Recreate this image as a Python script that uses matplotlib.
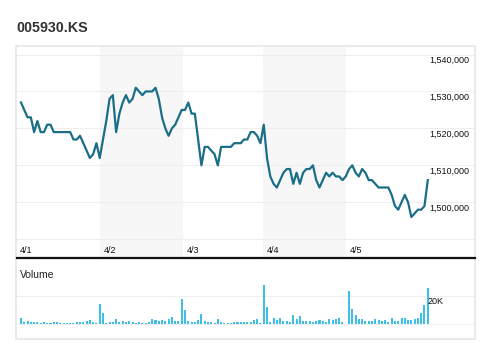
import matplotlib
matplotlib.use('Agg')
import matplotlib.pyplot as plt
from matplotlib.transforms import blended_transform_factory
from matplotlib.lines import Line2D
from matplotlib.patches import Rectangle

plt.rcParams['font.family'] = ['Liberation Sans', 'DejaVu Sans']

# --- data (15-minute bars, 4/1 - 4/5) ---
title = '005930.KS'
day_labels = ['4/1', '4/2', '4/3', '4/4', '4/5']
price_ticks = [1490000, 1500000, 1510000, 1520000, 1530000, 1540000]
price_tick_labels = ['', '1,500,000', '1,510,000', '1,520,000', '1,530,000', '1,540,000']
volume_ticks = [0, 20000]
volume_tick_labels = ['', '20K']

prices = [
    1527000, 1525000, 1523000, 1523000, 1519000, 1522000, 1519000, 1519000, 1521000, 1521000,
    1519000, 1519000, 1519000, 1519000, 1519000, 1519000, 1517000, 1517000, 1518000, 1516000,
    1514000, 1512000, 1513000, 1516000, 1512000, 1517000, 1522000, 1528000, 1529000, 1519000,
    1524000, 1527000, 1529000, 1527000, 1528000, 1531000, 1530000, 1529000, 1530000, 1530000,
    1530000, 1531000, 1528000, 1523000, 1520000, 1518000, 1520000, 1521000, 1523000, 1525000,
    1525000, 1527000, 1524000, 1524000, 1517000, 1510000, 1515000, 1515000, 1514000, 1513000,
    1510000, 1515000, 1515000, 1515000, 1515000, 1516000, 1516000, 1516000, 1517000, 1517000,
    1519000, 1519000, 1518000, 1516000, 1521000, 1512000, 1507000, 1505000, 1504000, 1506000,
    1508000, 1509000, 1509000, 1505000, 1508000, 1505000, 1508000, 1509000, 1509000, 1510000,
    1506000, 1504000, 1506000, 1508000, 1507000, 1508000, 1507000, 1507000, 1506000, 1507000,
    1509000, 1510000, 1508000, 1507000, 1509000, 1508000, 1506000, 1506000, 1505000, 1504000,
    1504000, 1504000, 1504000, 1502000, 1499000, 1498000, 1500000, 1502000, 1500000, 1496000,
    1497000, 1498000, 1498000, 1499000, 1506000,
]

volumes = [
    4300, 1700, 2100, 1400, 1400, 1400, 700, 1400, 1000, 1000,
    1400, 1400, 700, 1000, 700, 700, 700, 1400, 1400, 1400,
    2100, 2900, 1400, 700, 14300, 8100, 700, 1400, 1400, 3300,
    1400, 2100, 1400, 2100, 1400, 700, 1400, 1000, 1000, 1400,
    3300, 2900, 2100, 2900, 2100, 3300, 5000, 2100, 2100, 17900,
    10000, 2100, 1400, 1400, 2900, 7100, 2100, 1400, 1400, 700,
    3300, 1400, 700, 700, 700, 1400, 1400, 1400, 1400, 1400,
    1400, 2600, 3600, 700, 27900, 12000, 1400, 4300, 2900, 4300,
    2100, 2100, 1400, 6400, 3600, 5700, 2100, 2100, 2100, 1400,
    2100, 2900, 2100, 1400, 3600, 2900, 3600, 4300, 1400, 0,
    23600, 10700, 6400, 3600, 3600, 2100, 2100, 2100, 3600, 2900,
    2100, 2900, 1400, 4300, 2100, 2100, 4300, 4300, 2900, 2900,
    3600, 4300, 7900, 13600, 25700,
]

bars = list(range(len(prices)))

# --- layout (pixels) ---
W, H = 496, 357
day_starts = [-1.5, 24.1, 49.4, 73.8, 99.1]   # in bar units
x_lim = (-1.52, 138.4)
line_color = '#1a6e88'
vol_color = '#3ebfe8'
grid_color = '#eeeeee'


def box(x0, y0, x1, y1):
    return [x0 / W, 1 - y1 / H, (x1 - x0) / W, (y1 - y0) / H]


fig = plt.figure(figsize=(W / 100, H / 100), dpi=100)

# price panel
ax = fig.add_axes(box(16, 47, 475, 257))
ax.set_xlim(*x_lim)
ax.set_ylim(1485196, 1542030)
ax.axis('off')
for i in (1, 3):
    ax.axvspan(day_starts[i], day_starts[i + 1], color='#f7f7f7', lw=0, zorder=0)
for t in price_ticks:
    ax.axhline(t, color=grid_color, lw=0.8, zorder=1)
ax.plot(bars, prices, color=line_color, lw=1.6, zorder=3)

tr = blended_transform_factory(ax.transAxes, ax.transData)
for t, lab in zip(price_ticks, price_tick_labels):
    ax.text(0.8998, t - 350, lab, transform=tr, fontsize=6.5, color='#111111',
            ha='left', va='top')

trx = blended_transform_factory(ax.transData, ax.transAxes)
for d, lab in zip(day_starts, day_labels):
    ax.text(d + 1.1, 0.031, lab, transform=trx, fontsize=6.5, color='#111111',
            ha='left', va='center')

# volume panel
axv = fig.add_axes(box(16, 259, 475, 339))
axv.set_xlim(*x_lim)
axv.set_ylim(-10714, 46429)
axv.axis('off')
for t in volume_ticks:
    axv.axhline(t, color=grid_color, lw=0.8, zorder=1)
axv.bar(bars, volumes, width=0.62, color=vol_color, lw=0, zorder=2)
trv = blended_transform_factory(axv.transAxes, axv.transData)
for t, lab in zip(volume_ticks, volume_tick_labels):
    axv.text(0.8976, t - 900, lab, transform=trv, fontsize=6.5, color='#111111',
             ha='left', va='top')

# frame, separator, titles
fig.add_artist(Rectangle((16 / W, 1 - 339 / H), 459 / W, 293 / H, transform=fig.transFigure,
                         fill=False, edgecolor='#e6e6e6', lw=1.2))
fig.add_artist(Line2D([17 / W, 475 / W], [1 - 258.3 / H, 1 - 258.3 / H],
                      transform=fig.transFigure, color='#111111', lw=1.6))
fig.text(20 / W, 1 - 275 / H, 'Volume', fontsize=7.5, color='#222222', va='center')
fig.text(16 / W, 1 - 27.5 / H, title, fontsize=10.3, fontweight='bold',
         color='#333333', va='center')

fig.savefig('out.png', dpi=100)
